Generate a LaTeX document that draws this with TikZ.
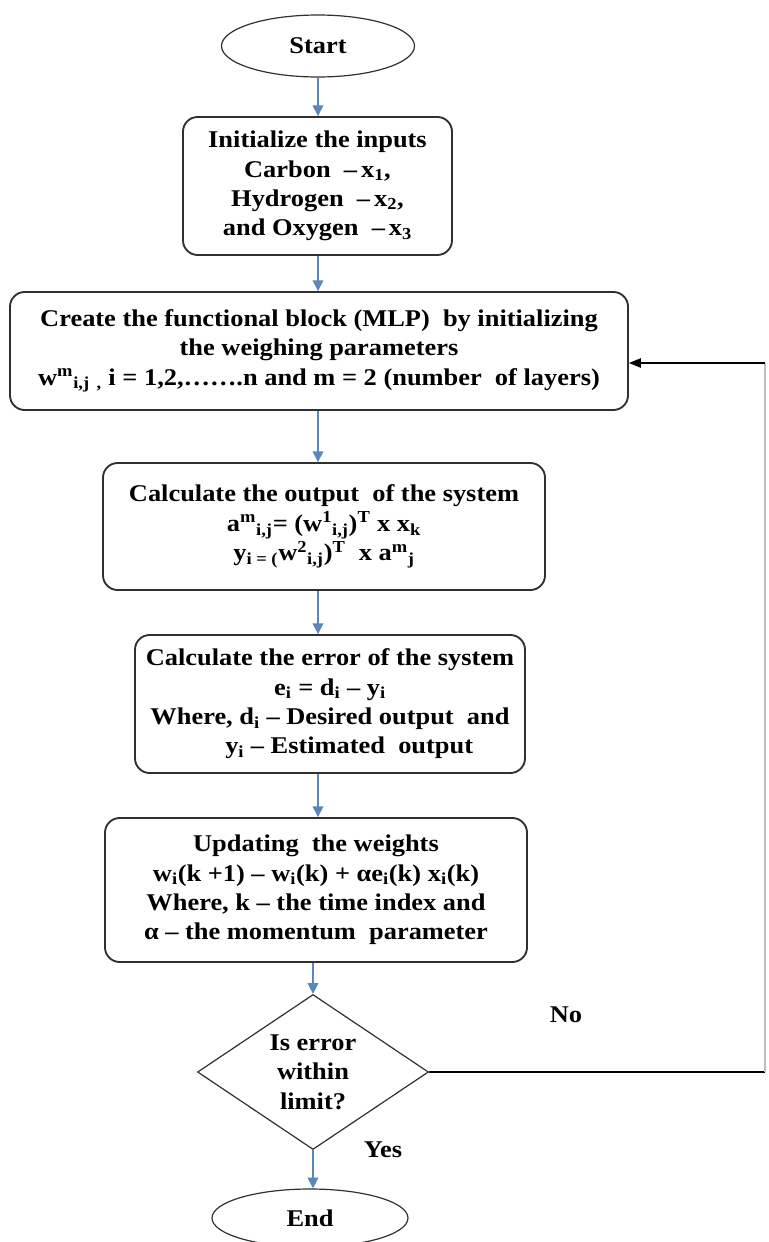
\documentclass[tikz,border=0pt]{standalone}
\usepackage{fontspec}
\setmainfont[FakeStretch=1.1]{Liberation Serif}
\usetikzlibrary{shapes.geometric,arrows.meta}

\definecolor{flowblue}{HTML}{5B87BE}
\definecolor{edgegrey}{HTML}{303030}

\begin{document}
\begin{tikzpicture}[x=0.75pt,y=-0.75pt,
  every node/.style={font=\bfseries\fontsize{18}{22}\selectfont, text=black},
  terminal/.style={ellipse, draw=edgegrey, line width=0.9pt, inner sep=0pt},
  procbox/.style={rectangle, rounded corners=11pt, draw=edgegrey, line width=1.4pt,
                  align=center, inner sep=0pt},
  decision/.style={diamond, draw=edgegrey, line width=0.9pt, align=center,
                   inner sep=0pt, aspect=1.5},
  flow/.style={draw=flowblue, line width=1pt, -{Triangle[width=8pt,length=8pt]}},
  back/.style={draw=black, line width=1.1pt},
  lbl/.style={inner sep=0pt}]

\useasboundingbox (0,0) rectangle (768,1242);

% terminals, process boxes and the decision
\node[terminal, minimum width=144.75pt, minimum height=46.5pt] (start) at (318,46) {Start};

\node[procbox, minimum width=201.75pt, minimum height=103.5pt] (init) at (317.5,186)
  {Initialize the inputs\\
   Carbon \ –\,x\textsubscript{1},\\
   Hydrogen \ –\,x\textsubscript{2},\\
   and Oxygen \ –\,x\textsubscript{3}};

\node[procbox, minimum width=463.5pt, minimum height=88.5pt] (create) at (319,351)
  {Create the functional block (MLP) \ by initializing\\
   the weighing parameters\\
   w\textsuperscript{m}\textsubscript{i,j \,,} i = 1,2,…….n and m = 2 (number \ of layers)};

\node[procbox, minimum width=331.5pt, minimum height=95.25pt] (output) at (324,526.5)
  {Calculate the output \ of the system\\
   a\textsuperscript{m}\textsubscript{i,j}= (w\textsuperscript{1}\textsubscript{i,j})\textsuperscript{T} x x\textsubscript{k}\\
   y\textsubscript{i = (}w\textsuperscript{2}\textsubscript{i,j})\textsuperscript{T} \ x a\textsuperscript{m}\textsubscript{j}};

\node[procbox, minimum width=292.5pt, minimum height=103.5pt] (error) at (330,704)
  {Calculate the error of the system\\
   e\textsubscript{i} = d\textsubscript{i} – y\textsubscript{i}\\
   Where, d\textsubscript{i} – Desired output \ and\\
   \hspace*{1.6em}y\textsubscript{i} – Estimated \ output};

\node[procbox, minimum width=316.5pt, minimum height=108pt] (update) at (316,890)
  {Updating \ the weights\\
   w\textsubscript{i}(k +1) – w\textsubscript{i}(k) + αe\textsubscript{i}(k) x\textsubscript{i}(k)\\
   Where, k – the time index and\\
   α – the momentum \ parameter};

\node[decision, minimum width=173.25pt, minimum height=116.25pt] (dec) at (313,1072)
  {Is error\\ within\\ limit?};

\node[terminal, minimum width=147pt, minimum height=43.5pt] (end) at (310,1218) {End};

% branch labels
\node[lbl] (nolbl) at (566,1015) {No};
\node[lbl] (yeslbl) at (383,1150) {Yes};

% helper points for the main column and the return path
\coordinate (colA) at (318,0);
\coordinate (colB) at (313,0);
\coordinate (fbA) at (765,1072);
\coordinate (fbB) at (765,363);

% main downward flow
\draw[flow] (start.south) -- (init.north -| start.south);
\draw[flow] (init.south -| colA) -- (create.north -| colA);
\draw[flow] (create.south -| colA) -- (output.north -| colA);
\draw[flow] (output.south -| colA) -- (error.north -| colA);
\draw[flow] (error.south -| colA) -- (update.north -| colA);
\draw[flow] (update.south -| colB) -- (dec.north);
\draw[flow] (dec.south) -- (end.north -| dec.south);

% return path when the error is not within the limit
\draw[back] (dec.east) -- (fbA);
\draw[draw=black!25, line width=1pt] (fbA) -- (fbB);
\draw[back, -{Triangle[width=7pt,length=9pt]}] (fbB) -- (create.east |- fbB);

\end{tikzpicture}
\end{document}
